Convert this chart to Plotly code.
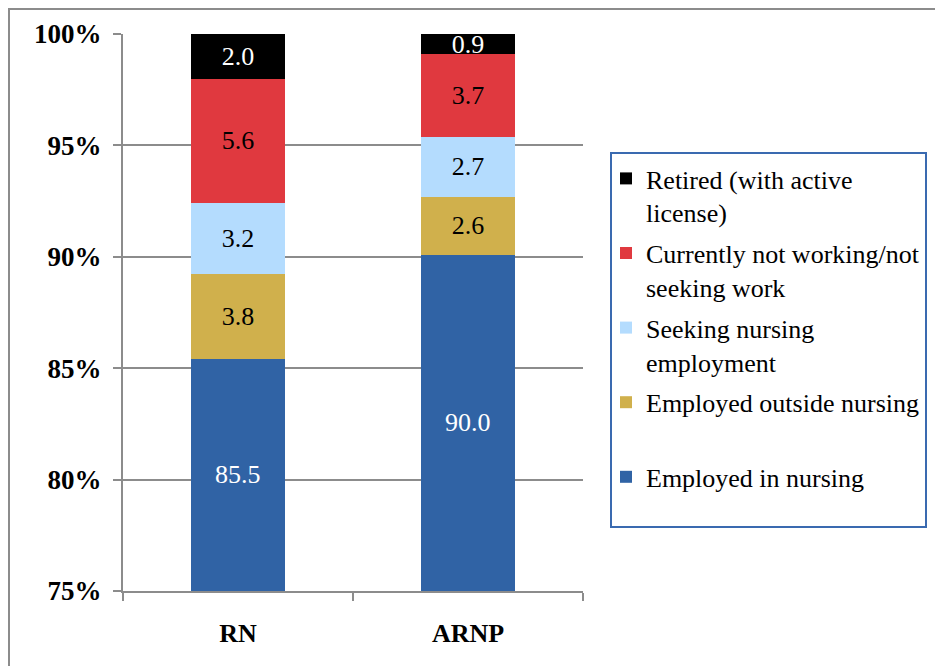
import plotly.graph_objects as go

categories = ["RN", "ARNP"]
legend_labels = [
    "Employed in nursing<br> ",
    "Employed outside nursing<br> ",
    "Seeking nursing<br>employment",
    "Currently not working/not<br>seeking work",
    "Retired (with active<br>license)",
]
employed_in = [85.5, 90.0]
employed_out = [3.8, 2.6]
seeking = [3.2, 2.7]
not_working = [5.6, 3.7]
retired = [2.0, 0.9]
series_values = [employed_in, employed_out, seeking, not_working, retired]
colors = ["#3063A5", "#D0B04C", "#B4DCFE", "#E0393F", "#000000"]
text_colors = ["white", "black", "black", "black", "white"]
y_ticks = [75, 80, 85, 90, 95, 100]
y_tick_labels = ["75%", "80%", "85%", "90%", "95%", "100%"]
Y_MIN, Y_MAX = 75, 100

FONT = "Liberation Serif"
GRAY = "#8c8c8c"

totals = [sum(s[i] for s in series_values) for i in range(len(categories))]
n_series = len(series_values)

fig = go.Figure()
for k, (lab, vals, col, tcol) in enumerate(zip(legend_labels, series_values, colors, text_colors)):
    fig.add_trace(go.Bar(
        x=categories, y=vals, name=lab,
        legendgroup=f"g{k}", legendrank=n_series - k,
        marker=dict(color=col, line=dict(width=0)),
        width=0.41,
        text=[f"{v:.1f}" for v in vals],
        textposition="none" if k == 0 else "inside",
        insidetextanchor="middle", textangle=0,
        textfont=dict(family=FONT, size=26, color=tcol),
        hoverinfo="skip",
    ))

# labels for the bottom segment, centred in its visible part
annotations = []
for i, cat in enumerate(categories):
    top = employed_in[i] / totals[i] * 100
    annotations.append(dict(
        x=cat, y=(Y_MIN + top) / 2, xref="x", yref="y",
        text=f"{employed_in[i]:.1f}", showarrow=False,
        font=dict(family=FONT, size=26, color="white"),
    ))

L, R, T, B = 123, 352, 34, 75
W, H = 935, 666
pw, ph = W - L - R, H - T - B

def px_x(p):
    return (p - L) / pw

def px_y(p):
    return (H - B - p) / ph

fig.update_layout(
    width=W, height=H,
    barmode="stack", barnorm="percent",
    margin=dict(l=L, r=R, t=T, b=B, autoexpand=False),
    paper_bgcolor="white", plot_bgcolor="white",
    font=dict(family=FONT, size=26, color="black"),
    uniformtext=dict(minsize=26, mode="show"),
    showlegend=True,
    annotations=annotations,
    legend=dict(
        traceorder="grouped",
        x=px_x(606), y=px_y(155), xanchor="left", yanchor="top",
        borderwidth=0, bgcolor="rgba(0,0,0,0)",
        font=dict(family=FONT, size=26, color="black"),
        valign="top", itemclick=False, itemdoubleclick=False,
        tracegroupgap=4,
    ),
    xaxis=dict(
        showline=True, linecolor=GRAY, linewidth=2,
        ticks="outside", tickson="boundaries", ticklen=8, tickcolor=GRAY, tickwidth=2,
        tickfont=dict(family=FONT, size=26, weight="bold"),
        ticklabelstandoff=18,
        showgrid=False, fixedrange=True,
    ),
    yaxis=dict(
        range=[Y_MIN, Y_MAX], tickvals=y_ticks, ticktext=y_tick_labels,
        showline=True, linecolor=GRAY, linewidth=2,
        ticks="outside", ticklen=8, tickcolor=GRAY, tickwidth=2,
        showgrid=True, gridcolor=GRAY, gridwidth=2, zeroline=False,
        tickfont=dict(family=FONT, size=27, weight="bold"),
        ticklabelstandoff=6,
        fixedrange=True,
    ),
    shapes=[
        dict(
            type="rect", xref="paper", yref="paper",
            x0=px_x(9), x1=px_x(1200), y0=px_y(9), y1=px_y(900),
            line=dict(color=GRAY, width=2), fillcolor="rgba(0,0,0,0)", layer="below",
        ),
        dict(
            type="rect", xref="paper", yref="paper",
            x0=px_x(611), x1=px_x(926), y0=px_y(153), y1=px_y(527),
            line=dict(color="#3A6AB0", width=2), fillcolor="rgba(0,0,0,0)", layer="above",
        ),
    ],
)

fig.write_html(
    "out.html",
    config={"displayModeBar": False},
    post_script="document.body.style.margin='0';document.body.style.padding='0';",
)
